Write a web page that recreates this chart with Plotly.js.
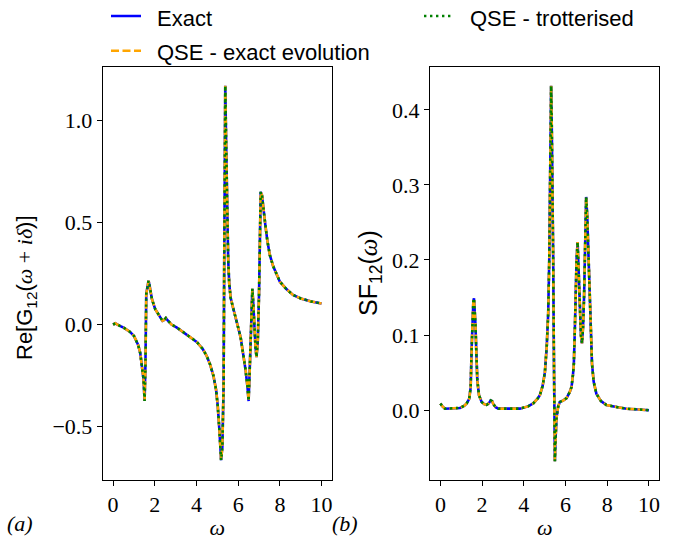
<!DOCTYPE html>
<html>
<head>
<meta charset="utf-8">
<script src="https://cdn.plot.ly/plotly-3.0.1.min.js"></script>
<style>html,body{margin:0;padding:0;background:#fff;}#chart{width:673px;height:540px;}</style>
</head>
<body>
<div id="chart"></div>
<script>
// ---- data ----
const seriesNames = ["Exact", "QSE - exact evolution", "QSE - trotterised"];
const omegaA = [0.00,0.10,0.30,0.50,0.80,1.00,1.20,1.30,1.40,1.46,1.51,1.55,1.59,1.65,1.70,1.75,1.86,2.02,2.20,2.37,2.45,2.53,2.62,2.80,3.06,3.37,3.60,4.01,4.30,4.49,4.65,4.81,4.94,5.02,5.10,5.18,5.24,5.30,5.33,5.36,5.38,5.42,5.47,5.52,5.57,5.64,5.76,5.90,6.00,6.12,6.24,6.35,6.44,6.50,6.56,6.62,6.68,6.72,6.77,6.83,6.88,6.94,7.00,7.04,7.08,7.14,7.20,7.30,7.40,7.52,7.68,7.85,8.00,8.30,8.63,9.00,9.50,10.00];
const reG12 = [0.000,0.006,-0.005,-0.015,-0.035,-0.056,-0.100,-0.140,-0.220,-0.270,-0.375,-0.200,0.150,0.200,0.215,0.190,0.125,0.075,0.045,0.018,0.022,0.032,0.020,0.000,-0.015,-0.038,-0.052,-0.085,-0.120,-0.154,-0.195,-0.250,-0.320,-0.400,-0.520,-0.665,-0.600,-0.300,0.300,1.000,1.170,0.900,0.550,0.320,0.200,0.130,0.080,0.030,-0.015,-0.065,-0.140,-0.220,-0.300,-0.375,-0.200,0.050,0.175,0.110,-0.010,-0.110,-0.160,-0.080,0.150,0.500,0.650,0.635,0.590,0.490,0.410,0.340,0.285,0.240,0.210,0.175,0.145,0.128,0.113,0.103];
const omegaB = [0.00,0.10,0.22,0.50,0.94,1.15,1.26,1.38,1.45,1.50,1.53,1.58,1.61,1.65,1.68,1.72,1.77,1.85,1.98,2.10,2.22,2.32,2.41,2.48,2.54,2.65,2.78,3.20,3.81,4.20,4.45,4.65,4.77,4.90,5.01,5.10,5.17,5.22,5.25,5.28,5.31,5.34,5.38,5.41,5.44,5.47,5.49,5.52,5.57,5.65,5.73,5.90,6.05,6.20,6.29,6.36,6.40,6.45,6.48,6.53,6.58,6.62,6.68,6.74,6.79,6.84,6.89,6.94,6.99,7.04,7.08,7.12,7.16,7.22,7.27,7.35,7.48,7.70,7.96,8.50,8.92,9.50,10.00];
const sf12 = [0.009,0.005,0.002,0.002,0.003,0.006,0.009,0.015,0.030,0.084,0.120,0.145,0.149,0.135,0.115,0.080,0.040,0.020,0.011,0.008,0.007,0.009,0.013,0.012,0.008,0.004,0.002,0.002,0.002,0.005,0.009,0.015,0.020,0.032,0.050,0.085,0.129,0.200,0.262,0.380,0.432,0.380,0.300,0.200,0.084,-0.020,-0.068,-0.040,-0.010,0.005,0.011,0.013,0.016,0.024,0.031,0.048,0.062,0.110,0.151,0.200,0.224,0.190,0.140,0.100,0.089,0.110,0.151,0.230,0.284,0.260,0.230,0.190,0.151,0.100,0.062,0.038,0.022,0.012,0.007,0.004,0.002,0.001,0.000];
const xTicks = [0,2,4,6,8,10];
const yTicksA = [-0.5,0.0,0.5,1.0];
const yTicksB = [0.0,0.1,0.2,0.3,0.4];

const styles = [
  {color:"#0000ff", width:2.6, dash:"solid"},
  {color:"#ffa500", width:2.6, dash:"8px,3.5px"},
  {color:"#008000", width:2.6, dash:"2.4px,3.6px"}
];
const legendIds = ["legend", "legend", "legend2"];

const traces = [];
seriesNames.forEach((name,i)=>{
  traces.push({x:omegaA, y:reG12, xaxis:"x", yaxis:"y", type:"scatter", mode:"lines",
    name:'<span style="font-size:22px">\u2002'+name+'</span>', legend:legendIds[i], showlegend:true, line:styles[i]});
});
seriesNames.forEach((name,i)=>{
  traces.push({x:omegaB, y:sf12, xaxis:"x2", yaxis:"y2", type:"scatter", mode:"lines",
    name:name, showlegend:false, line:styles[i]});
});

const serif = "Liberation Serif, DejaVu Serif, serif";
const sans = "Liberation Sans, Arial, sans-serif";
const axBase = {showgrid:false, zeroline:false, showline:true, mirror:true, linecolor:"#000", linewidth:1,
  ticks:"outside", ticklen:5, tickwidth:1, tickcolor:"#000",
  tickfont:{family:serif, size:22, color:"#000"}};
const legBase = {orientation:"v", xanchor:"left", yanchor:"top", y:1.012,
  font:{family:sans, size:24.5, color:"#000"}, bgcolor:"rgba(0,0,0,0)", borderwidth:0, traceorder:"normal"};

const layout = {
  width:673, height:540,
  margin:{l:0,r:0,t:0,b:0, autoexpand:false},
  paper_bgcolor:"#fff", plot_bgcolor:"#fff",
  showlegend:true,
  legend:Object.assign({}, legBase, {x:106/673}),
  legend2:Object.assign({}, legBase, {x:419/673}),
  xaxis:Object.assign({}, axBase, {domain:[0.1526,0.4933], anchor:"y", range:[-0.5,10.5],
    tickvals:xTicks, ticktext:xTicks.map(String),
    title:{text:"<i>ω</i>", font:{family:serif, size:22, color:"#000"}, standoff:6}}),
  yaxis:Object.assign({}, axBase, {domain:[0.1111,0.8759], anchor:"x", range:[-0.762,1.262],
    tickvals:yTicksA, ticktext:yTicksA.map(v=>v.toFixed(1).replace("-","\u2212"))}),
  xaxis2:Object.assign({}, axBase, {domain:[0.6389,0.9797], anchor:"y2", range:[-0.5,10.5],
    tickvals:xTicks, ticktext:xTicks.map(String),
    title:{text:"<i>ω</i>", font:{family:serif, size:22, color:"#000"}, standoff:6}}),
  yaxis2:Object.assign({}, axBase, {domain:[0.1111,0.8759], anchor:"x2", range:[-0.093,0.457],
    tickvals:yTicksB, ticktext:yTicksB.map(v=>v.toFixed(1))}),
  annotations:[
    {text:"Re[G<sub>12</sub>(<span style=\"font-family:Liberation Serif\"><i>ω</i> + <i>iδ</i></span>)]", textangle:-90,
      xref:"paper", yref:"paper", x:26/673, xanchor:"center", y:(540-288)/540, yanchor:"middle", showarrow:false,
      font:{family:sans, size:22, color:"#000"}},
    {text:"SF<sub>12</sub>(<span style=\"font-family:Liberation Serif\"><i>ω</i></span>)", textangle:-90,
      xref:"paper", yref:"paper", x:370/673, xanchor:"center", y:(540-273)/540, yanchor:"middle", showarrow:false,
      font:{family:sans, size:25, color:"#000"}},
    {text:"<i>(a)</i>", xref:"paper", yref:"paper", x:5/673, xanchor:"left", y:(540-523)/540, yanchor:"middle", showarrow:false, font:{family:serif, size:22, color:"#000"}},
    {text:"<i>(b)</i>", xref:"paper", yref:"paper", x:330/673, xanchor:"left", y:(540-523)/540, yanchor:"middle", showarrow:false, font:{family:serif, size:22, color:"#000"}}
  ]
};

Plotly.newPlot("chart", traces, layout, {displayModeBar:false, staticPlot:true});
</script>
</body>
</html>
